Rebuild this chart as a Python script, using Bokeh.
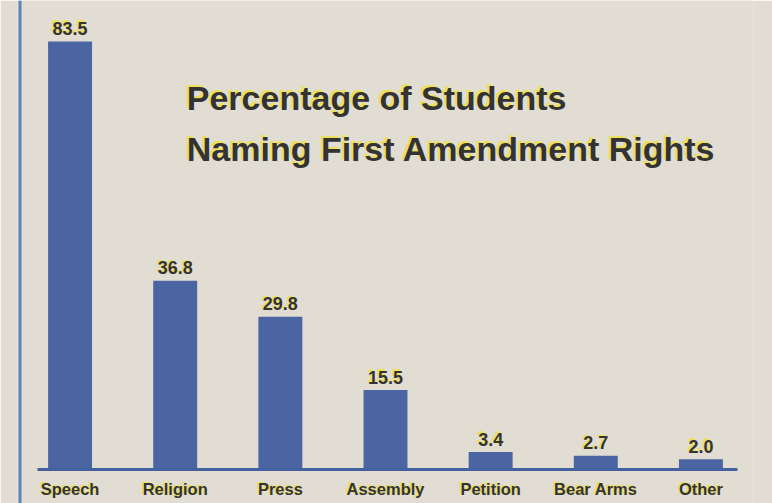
from bokeh.plotting import figure
from bokeh.models import ColumnDataSource, FactorRange, Range1d, Span, Label
from bokeh.transform import dodge
from bokeh.core.properties import value
from bokeh.embed import file_html
from bokeh.resources import INLINE

categories = ["Speech", "Religion", "Press", "Assembly", "Petition", "Bear Arms", "Other"]
percentages = [83.5, 36.8, 29.8, 15.5, 3.4, 2.7, 2.0]
value_labels = ["83.5", "36.8", "29.8", "15.5", "3.4", "2.7", "2.0"]
title_lines = ["Percentage of Students", "Naming First Amendment Rights"]

PAPER = "#e2ddd3"
BAR = "#4b64a2"
INK = "#333333"
YELLOW = "#eee05a"
SANS = "Liberation Sans"

src = ColumnDataSource(dict(cat=categories, pct=percentages, lab=value_labels))

p = figure(x_range=FactorRange(factors=categories), y_range=Range1d(-6.63, 91.49),
           width=772, height=503, output_backend="svg", toolbar_location=None,
           x_axis_location=None, y_axis_location=None,
           min_border_left=17, min_border_right=19, min_border_top=0, min_border_bottom=0)
p.background_fill_color = PAPER
p.border_fill_color = PAPER
p.outline_line_color = None
p.xgrid.visible = False
p.ygrid.visible = False

# left rule
p.add_layout(Span(location=0.024, dimension="height", line_color="#5d85b6", line_width=3))

# bars
p.vbar(x="cat", top="pct", width=0.418, source=src, fill_color=BAR, line_color=None)

# baseline
base = ColumnDataSource(dict(x0=[categories[0]], x1=[categories[-1]], y=[0]))
p.segment(x0=dodge("x0", -0.31, range=p.x_range), y0="y",
          x1=dodge("x1", 0.348, range=p.x_range), y1="y",
          source=base, line_color="#44609f", line_width=3)

# value labels
for col, dx, dy in [(YELLOW, -1.5, -14.5), (INK, 0, -13)]:
    p.text(x="cat", y="pct", text="lab", source=src, text_align="center",
           text_baseline="middle", x_offset=dx, y_offset=dy,
           text_font=value(SANS), text_font_size="18px", text_font_style="bold",
           text_color=col)

# category labels
for col, dx, dy in [(YELLOW, -1.5, 18), (INK, 0, 19.5)]:
    p.text(x="cat", y=0, text="cat", source=src, text_align="center",
           text_baseline="middle", x_offset=dx, y_offset=dy,
           text_font=value(SANS), text_font_size="16.5px", text_font_style="bold",
           text_color=col)

# title
for line, yv in zip(title_lines, [72.51, 62.5]):
    for col, dx, dy in [(YELLOW, -2, 2), (INK, 0, 0)]:
        p.add_layout(Label(x=1.61, y=yv, text=line, x_offset=dx, y_offset=dy,
                           text_font=SANS, text_font_size="34px", text_font_style="bold",
                           text_color=col, text_baseline="middle", text_align="left"))

open("out.html", "w").write(file_html(p, INLINE))
